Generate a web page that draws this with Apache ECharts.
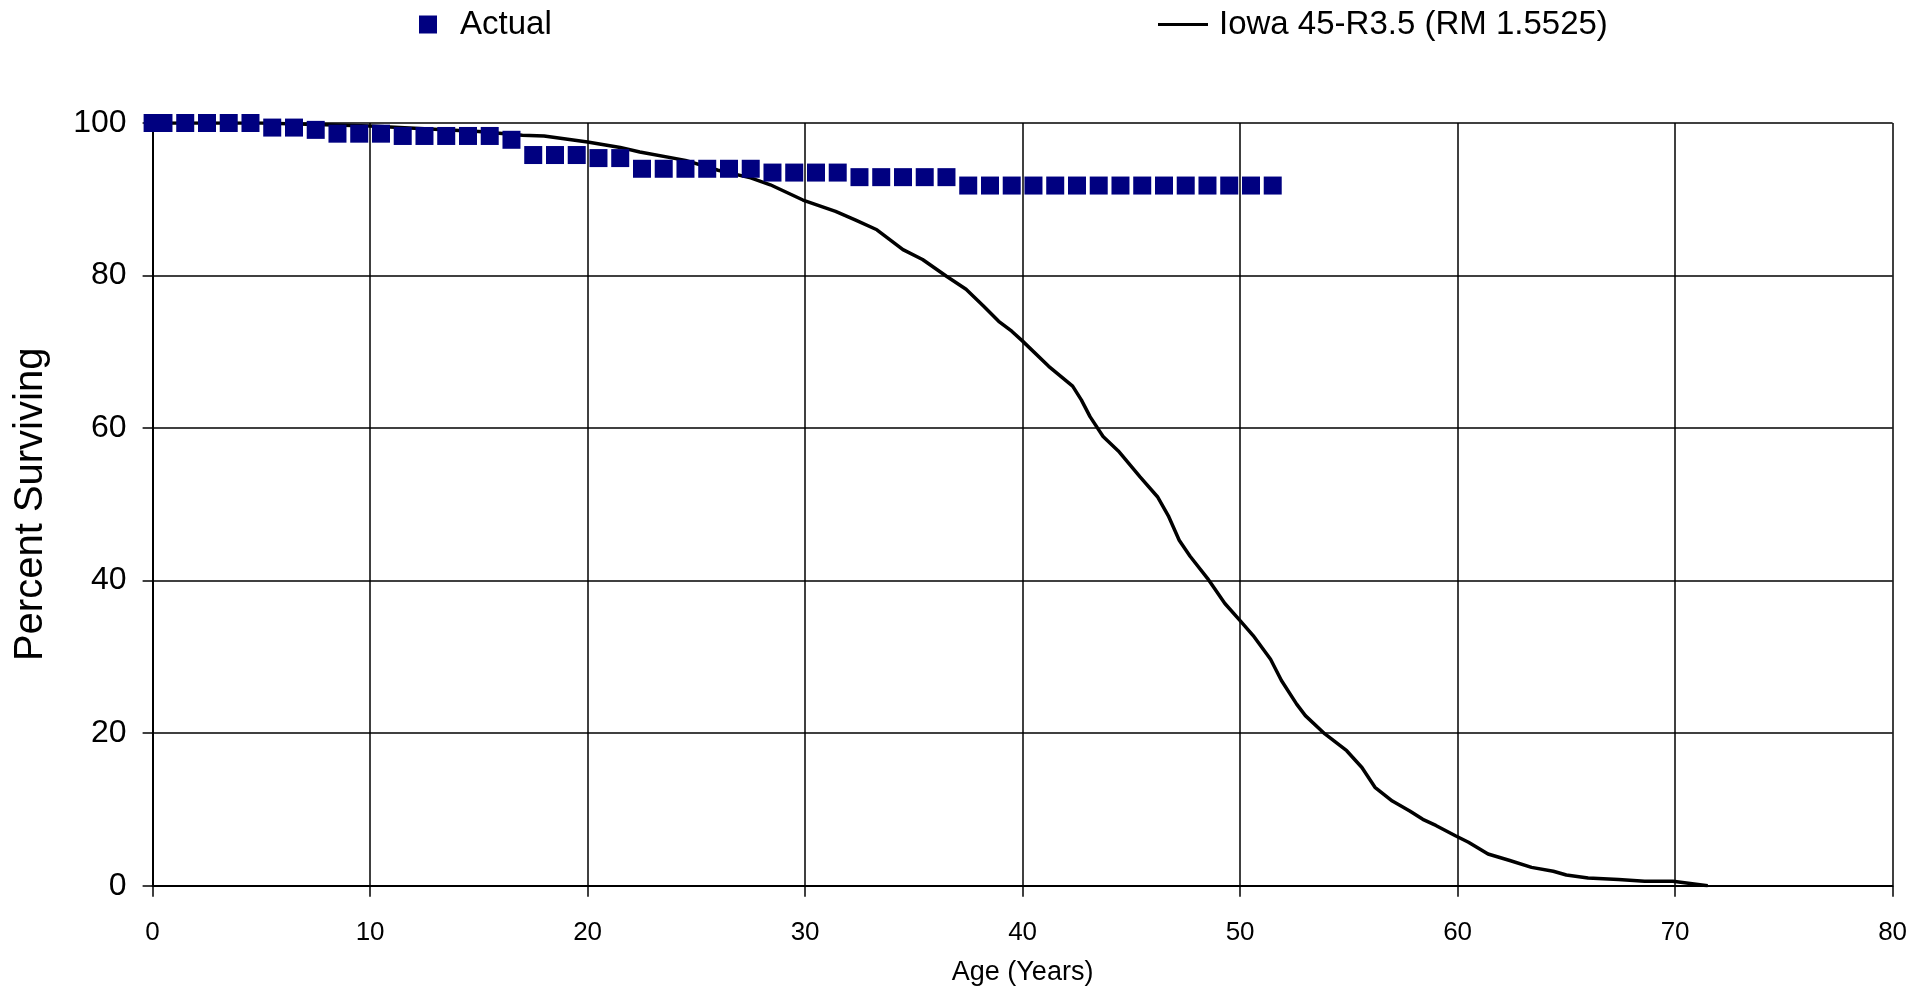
<!DOCTYPE html>
<html>
<head>
<meta charset="utf-8">
<script src="https://cdn.jsdelivr.net/npm/echarts@6/dist/echarts.min.js"></script>
<style>html,body{margin:0;padding:0;background:#fff}#c{width:1931px;height:993px}</style>
</head>
<body>
<div id="c"></div>
<script>
const actualAges = [0, 0.5, 1.5, 2.5, 3.5, 4.5, 5.5, 6.5, 7.5, 8.5, 9.5, 10.5, 11.5, 12.5, 13.5, 14.5, 15.5, 16.5, 17.5, 18.5, 19.5, 20.5, 21.5, 22.5, 23.5, 24.5, 25.5, 26.5, 27.5, 28.5, 29.5, 30.5, 31.5, 32.5, 33.5, 34.5, 35.5, 36.5, 37.5, 38.5, 39.5, 40.5, 41.5, 42.5, 43.5, 44.5, 45.5, 46.5, 47.5, 48.5, 49.5, 50.5, 51.5];
const actualVals = [100, 100, 100, 100, 100, 100, 99.4, 99.4, 99.1, 98.6, 98.6, 98.6, 98.3, 98.3, 98.3, 98.3, 98.3, 97.8, 95.8, 95.8, 95.8, 95.4, 95.4, 94.0, 94.0, 94.0, 94.0, 94.0, 94.0, 93.5, 93.5, 93.5, 93.5, 92.9, 92.9, 92.9, 92.9, 92.9, 91.8, 91.8, 91.8, 91.8, 91.8, 91.8, 91.8, 91.8, 91.8, 91.8, 91.8, 91.8, 91.8, 91.8, 91.8];
const iowaAges = [0, 5, 10, 15, 17, 18, 20, 21.5, 22.4, 24.5, 26, 27.5, 28.4, 29.9, 31.4, 32.3, 33.3, 34.5, 35.4, 36.5, 37.4, 38.2, 38.9, 39.5, 40, 41.2, 42.3, 42.7, 43.1, 43.7, 44.4, 45.4, 46.2, 46.7, 47.2, 47.7, 48.5, 49.3, 50, 50.6, 51.4, 51.9, 52.6, 53, 53.9, 54.9, 55.6, 56.2, 57, 57.8, 58.4, 59, 59.9, 60.5, 61.4, 62.4, 63.4, 64.4, 65, 66, 67.4, 68.6, 69.9, 71.5];
const iowaVals = [100, 100, 99.6, 98.9, 98.4, 98.3, 97.5, 96.8, 96.2, 95.1, 93.8, 92.8, 91.9, 89.9, 88.4, 87.3, 86.0, 83.4, 82.1, 79.9, 78.2, 76.0, 74.0, 72.7, 71.4, 68.1, 65.5, 63.7, 61.5, 58.9, 57.0, 53.6, 51.0, 48.5, 45.3, 43.2, 40.3, 37.0, 34.75, 32.8, 29.7, 26.9, 23.8, 22.3, 19.9, 17.7, 15.5, 12.9, 11.1, 9.8, 8.7, 7.9, 6.55, 5.7, 4.15, 3.3, 2.4, 1.9, 1.4, 1.0, 0.8, 0.57, 0.57, 0];
const seriesNames = ['Actual', 'Iowa 45-R3.5 (RM 1.5525)'];
const xTitle = 'Age (Years)';
const yTitle = 'Percent Surviving';

const FONT = 'Liberation Sans';
const chart = echarts.init(document.getElementById('c'));
chart.setOption({
  animation: false,
  backgroundColor: '#fff',
  textStyle: { fontFamily: FONT, color: '#000' },
  grid: { left: 152.6, right: 38.4, top: 123, bottom: 107.3, containLabel: false },
  legend: [
    {
      data: [seriesNames[0]], left: 414, top: 3, icon: 'rect',
      itemWidth: 18, itemHeight: 18,
      textStyle: { fontFamily: FONT, fontSize: 33, color: '#000', padding: [0, 0, 0, 18] }
    },
    {
      data: [{ name: seriesNames[1], icon: 'rect' }], left: 1153, top: 3,
      itemWidth: 50, itemHeight: 3,
      itemStyle: { color: '#000', borderWidth: 0 },
      textStyle: { fontFamily: FONT, fontSize: 33, color: '#000', padding: [0, 0, 0, 6] }
    }
  ],
  xAxis: {
    type: 'value', min: 0, max: 80, interval: 10,
    name: xTitle, nameLocation: 'middle', nameGap: 73,
    nameTextStyle: { fontFamily: FONT, fontSize: 27, color: '#000' },
    axisLine: { show: true, onZero: false, lineStyle: { color: '#000', width: 2 } },
    axisTick: { show: true, inside: false, length: 11, lineStyle: { color: '#000', width: 1.5 } },
    axisLabel: { fontFamily: FONT, fontSize: 26, color: '#000', margin: 34 },
    splitLine: { show: true, lineStyle: { color: '#000', width: 1.5 } }
  },
  yAxis: {
    type: 'value', min: 0, max: 100, interval: 20,
    name: yTitle, nameLocation: 'middle', nameGap: 102,
    nameTextStyle: { fontFamily: FONT, fontSize: 40, color: '#000' },
    axisLine: { show: true, lineStyle: { color: '#000', width: 2 } },
    axisTick: { show: true, inside: false, length: 10, lineStyle: { color: '#000', width: 1.5 } },
    axisLabel: { fontFamily: FONT, fontSize: 32, color: '#000', margin: 26 },
    splitLine: { show: true, lineStyle: { color: '#000', width: 1.5 } }
  },
  series: [
    {
      name: seriesNames[1], type: 'line', symbol: 'none', z: 2,
      data: iowaAges.map((a, i) => [a, iowaVals[i]]),
      lineStyle: { color: '#000', width: 3.5 }, itemStyle: { color: '#000' }
    },
    {
      name: seriesNames[0], type: 'scatter', symbol: 'rect', symbolSize: 18, z: 3,
      data: actualAges.map((a, i) => [a, actualVals[i]]),
      itemStyle: { color: '#000080', opacity: 1 }
    }
  ]
});
</script>
</body>
</html>
